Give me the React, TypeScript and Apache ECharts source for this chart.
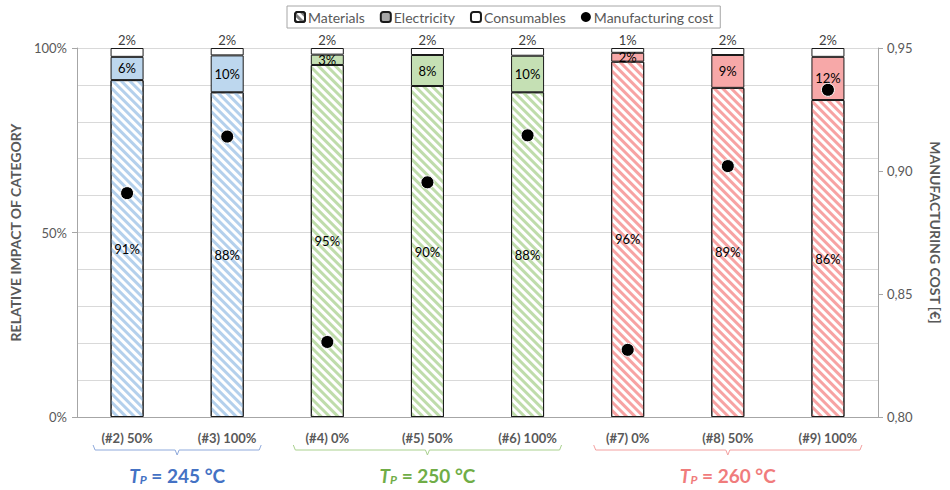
import React, { useEffect, useRef } from "react";
import * as echarts from "echarts";

const categories = ["(#2) 50%", "(#3) 100%", "(#4) 0%", "(#5) 50%", "(#6) 100%", "(#7) 0%", "(#8) 50%", "(#9) 100%"];
const materials = [91.3, 88.0, 95.4, 89.7, 88.0, 96.3, 89.2, 85.9];
const electricity = [6.3, 10.0, 2.8, 8.4, 9.9, 2.4, 8.9, 11.7];
const consumables = [2.4, 2.0, 1.8, 1.9, 2.1, 1.3, 1.9, 2.4];
const manufacturingCost = [0.891, 0.914, 0.8305, 0.8954, 0.9145, 0.8273, 0.902, 0.933];
const groupOf = [0, 0, 1, 1, 1, 2, 2, 2];
const groupTemps = ["245 °C", "250 °C", "260 °C"];
const groupFrom = [0, 2, 5];
const groupTo = [1, 4, 7];
const groupText = ["#4472c4", "#70ad47", "#f07c7c"];
const groupBracket = ["#8faadc", "#a9d18e", "#f4a0a0"];
const hatchColors = ["#b4d0ec", "#bfdcab", "#f7a3a3"];
const solidColors = ["#bdd7ee", "#c5e0b4", "#f7a8a8"];

const FONT = "Lato, 'Open Sans', sans-serif";
const GRAY = "#595959";

export default function App() {
  const ref = useRef<HTMLDivElement>(null);
  useEffect(() => {
    if (!ref.current) return;
    const chart = echarts.init(ref.current, undefined, { renderer: "svg" });
    const pct = (p: any) => Math.round(p.value) + "%";
    const decal = (color: string) => ({
      symbol: "rect",
      symbolSize: 1,
      color,
      dashArrayX: [1, 0],
      dashArrayY: [3, 3],
      rotation: Math.PI / 4,
    });
    chart.setOption({
      animation: false,
      textStyle: { fontFamily: FONT },
      legend: {
        top: 6,
        left: 287,
        borderColor: "#a6a6a6",
        borderWidth: 1,
        padding: [4, 7],
        itemWidth: 10,
        itemHeight: 10,
        itemGap: 15,
        textStyle: { fontSize: 14, color: GRAY, fontFamily: FONT, padding: [0, 0, 0, -2] },
        data: [
          { name: "Materials" },
          { name: "Electricity" },
          { name: "Consumables" },
          { name: "Manufacturing cost", icon: "circle", itemStyle: { borderWidth: 0 } },
        ],
      },
      grid: { left: 75, right: 66, top: 48, bottom: 73 },
      xAxis: {
        type: "category",
        data: categories,
        axisLine: { lineStyle: { color: "#a6a6a6", width: 1 } },
        axisTick: { show: false },
        axisLabel: { color: GRAY, fontWeight: "bold", fontSize: 13, margin: 14, fontFamily: FONT },
      },
      yAxis: [
        {
          type: "value",
          min: 0,
          max: 100,
          interval: 50,
          name: "RELATIVE IMPACT OF CATEGORY",
          nameLocation: "middle",
          nameGap: 55,
          nameRotate: 90,
          nameTextStyle: { color: GRAY, fontWeight: "bold", fontSize: 14, fontFamily: FONT },
          axisLine: { show: true, lineStyle: { color: "#a6a6a6" } },
          axisTick: { show: true, length: 5, lineStyle: { color: "#a6a6a6" } },
          axisLabel: { color: GRAY, fontSize: 13, formatter: (v: number) => v + "%", margin: 10 },
          splitLine: { show: true, lineStyle: { color: "#d9d9d9" } },
          minorTick: { show: false, splitNumber: 5 },
          minorSplitLine: { show: true, lineStyle: { color: "#d9d9d9" } },
        },
        {
          type: "value",
          min: 0.8,
          max: 0.95,
          interval: 0.05,
          position: "right",
          name: "MANUFACTURING COST [€]",
          nameLocation: "middle",
          nameGap: 50,
          nameRotate: -90,
          nameTextStyle: { color: GRAY, fontWeight: "bold", fontSize: 14, fontFamily: FONT },
          axisLine: { show: true, lineStyle: { color: "#a6a6a6" } },
          axisTick: { show: true, length: 5, lineStyle: { color: "#a6a6a6" } },
          axisLabel: { color: GRAY, fontSize: 13, margin: 9, formatter: (v: number) => v.toFixed(2).replace(".", ",") },
          splitLine: { show: false },
        },
      ],
      series: [
        {
          name: "Materials",
          type: "bar",
          stack: "s",
          barWidth: 33,
          itemStyle: { color: "#ffffff", borderColor: "#1a1a1a", borderWidth: 1, decal: decal("#808080") },
          label: { show: true, position: "inside", formatter: pct, color: "#000", fontSize: 13, fontFamily: FONT },
          data: materials.map((v, i) => ({
            value: v,
            itemStyle: { color: "#ffffff", decal: decal(hatchColors[groupOf[i]]) },
          })),
        },
        {
          name: "Electricity",
          type: "bar",
          stack: "s",
          barWidth: 33,
          itemStyle: { color: "#a6a6a6", borderColor: "#1a1a1a", borderWidth: 1 },
          label: { show: true, position: "inside", formatter: pct, color: "#000", fontSize: 13, fontFamily: FONT },
          data: electricity.map((v, i) => ({ value: v, itemStyle: { color: solidColors[groupOf[i]] } })),
        },
        {
          name: "Consumables",
          type: "bar",
          stack: "s",
          barWidth: 33,
          itemStyle: { color: "#ffffff", borderColor: "#1a1a1a", borderWidth: 1 },
          label: { show: true, position: "top", distance: 2, formatter: pct, color: "#404040", fontSize: 13, fontFamily: FONT },
          data: consumables,
        },
        {
          name: "Manufacturing cost",
          type: "scatter",
          yAxisIndex: 1,
          symbol: "circle",
          symbolSize: 13,
          z: 10,
          itemStyle: { color: "#000", borderColor: "#fff", borderWidth: 1, opacity: 1 },
          data: manufacturingCost,
        },
      ],
    });

    const yTop = 445;
    const yMid = 450;
    const yTip = 455;
    const graphics: any[] = [];
    groupTemps.forEach((t, g) => {
      const x1 = (chart.convertToPixel({ xAxisIndex: 0 }, categories[groupFrom[g]]) as number) - 34;
      const x2 = (chart.convertToPixel({ xAxisIndex: 0 }, categories[groupTo[g]]) as number) + 34;
      const cx = (x1 + x2) / 2;
      graphics.push({
        type: "polyline",
        shape: {
          points: [
            [x1, yTop],
            [x1 + 2, yMid],
            [cx - 2, yMid],
            [cx, yTip],
            [cx + 2, yMid],
            [x2 - 2, yMid],
            [x2, yTop],
          ],
        },
        style: { stroke: groupBracket[g], lineWidth: 1, fill: null },
      });
      graphics.push({
        type: "text",
        x: cx,
        y: 485,
        style: {
          text: "{t|T}{s|P}{n| = " + t + "}",
          align: "center",
          verticalAlign: "bottom",
          rich: {
            t: { fontSize: 19, fontWeight: "bold", fontStyle: "italic", fill: groupText[g], fontFamily: FONT, verticalAlign: "bottom", lineHeight: 22 },
            s: { fontSize: 12, fontWeight: "bold", fontStyle: "italic", fill: groupText[g], fontFamily: FONT, verticalAlign: "bottom", lineHeight: 16 },
            n: { fontSize: 19, fontWeight: "bold", fill: groupText[g], fontFamily: FONT, verticalAlign: "bottom", lineHeight: 22 },
          },
        },
      });
    });
    chart.setOption({ graphic: graphics });

    return () => chart.dispose();
  }, []);
  return <div ref={ref} style={{ position: "absolute", left: 0, top: 0, width: 950, height: 490 }} />;
}
